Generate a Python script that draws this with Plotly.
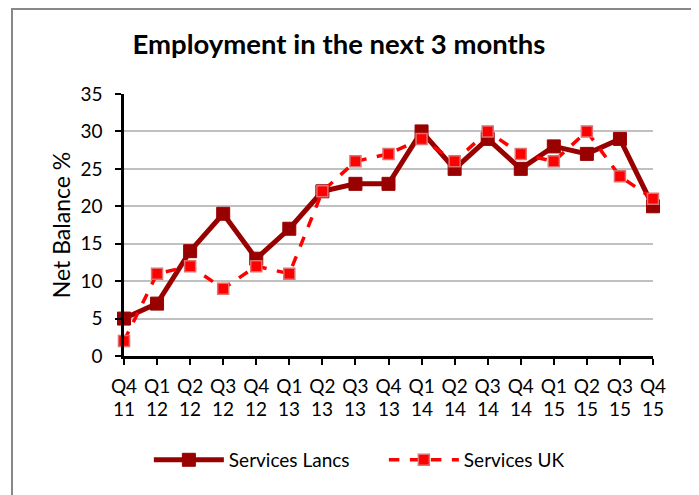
import plotly.graph_objects as go

quarters = ["Q4", "Q1", "Q2", "Q3", "Q4", "Q1", "Q2", "Q3", "Q4",
            "Q1", "Q2", "Q3", "Q4", "Q1", "Q2", "Q3", "Q4"]
years = ["11", "12", "12", "12", "12", "13", "13", "13", "13",
         "14", "14", "14", "14", "15", "15", "15", "15"]
lancs = [5, 7, 14, 19, 13, 17, 22, 23, 23, 30, 25, 29, 25, 28, 27, 29, 20]
uk = [2, 11, 12, 9, 12, 11, 22, 26, 27, 29, 26, 30, 27, 26, 30, 24, 21]
y_ticks = [0, 5, 10, 15, 20, 25, 30, 35]

idx = list(range(len(quarters)))
FONT = "Lato, Carlito, 'Liberation Sans', sans-serif"
TICK = 19

fig = go.Figure()
fig.add_trace(go.Scatter(
    x=idx, y=lancs, name="Services Lancs", mode="lines+markers",
    line=dict(color="#990000", width=5),
    marker=dict(symbol="square", size=13, color="#990000",
                line=dict(color="#990000", width=1)),
    cliponaxis=False,
))
fig.add_trace(go.Scatter(
    x=idx, y=uk, name="Services UK", mode="lines+markers",
    line=dict(color="#FF0000", width=3.5, dash="dash"),
    marker=dict(symbol="square", size=11, color="#FF0000",
                line=dict(color="#E07070", width=1.5)),
    cliponaxis=False,
))

for i, yr in zip(idx, years):
    fig.add_annotation(x=i, y=0, xref="x", yref="paper", text=yr,
                       showarrow=False, yshift=-66,
                       font=dict(family=FONT, size=TICK, color="#000000"))

fig.update_layout(
    width=691, height=487,
    margin=dict(l=116, r=46, t=86, b=139),
    paper_bgcolor="white", plot_bgcolor="white",
    font=dict(family=FONT, size=TICK, color="#000000"),
    title=dict(text="<b>Employment in the next 3 months</b>",
               x=0.479, xanchor="center", y=0.926, yanchor="middle",
               font=dict(family=FONT, size=27.5, color="#000000")),
    showlegend=True,
    legend=dict(orientation="h", x=0.047, xanchor="left",
                yref="container", y=0.072, yanchor="middle",
                font=dict(family=FONT, size=TICK),
                itemwidth=70, entrywidth=150, entrywidthmode="pixels",
                bgcolor="rgba(0,0,0,0)"),
    xaxis=dict(
        range=[0, 16], tickmode="array", tickvals=idx, ticktext=quarters,
        showgrid=False, zeroline=False, automargin=False,
        showline=True, linecolor="#000000", linewidth=2.5,
        ticks="outside", ticklen=6, tickwidth=2, tickcolor="#000000",
        ticklabelstandoff=5,
        tickfont=dict(family=FONT, size=TICK),
    ),
    yaxis=dict(
        range=[0, 35], tickmode="array", tickvals=y_ticks,
        showgrid=True, gridcolor="#C0C0C0", gridwidth=1.5, zeroline=False,
        automargin=False,
        showline=True, linecolor="#000000", linewidth=2.5,
        ticks="outside", ticklen=6, tickwidth=2, tickcolor="#000000",
        ticklabelstandoff=9,
        tickfont=dict(family=FONT, size=TICK),
        title=dict(text="Net Balance %", font=dict(family=FONT, size=23),
                   standoff=4),
    ),
    shapes=[dict(type="rect", xref="paper", yref="paper",
                 x0=-0.2117, x1=1.0737, y0=-0.6, y1=1.3244,
                 line=dict(color="#888888", width=2), layer="below")],
)

fig.write_html("out.html")
